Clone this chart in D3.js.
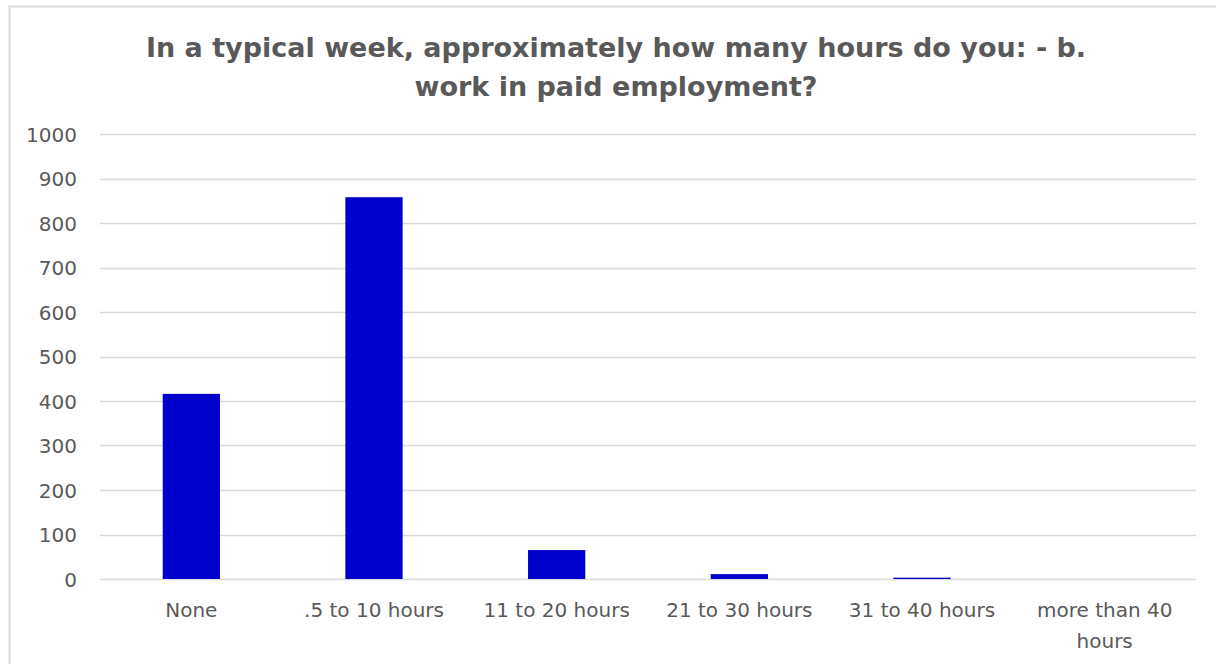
<!DOCTYPE html>
<html>
<head>
<meta charset="utf-8">
<script src="https://cdn.jsdelivr.net/npm/d3@7"></script>
<style>
  html, body { margin: 0; padding: 0; background: #ffffff; }
  svg { display: block; }
</style>
</head>
<body>
<svg id="chart" width="1216" height="664"></svg>
<script>
// Weekly hours spent in paid employment (respondent counts)
const categories = ["None", ".5 to 10 hours", "11 to 20 hours", "21 to 30 hours", "31 to 40 hours", "more than 40 hours"];
const counts = [416, 858, 65, 11, 3, 0];
const yTicks = [0, 100, 200, 300, 400, 500, 600, 700, 800, 900, 1000];
const titleLines = ["In a typical week, approximately how many hours do you: - b.", "work in paid employment?"];

const W = 1216, H = 664;
const plot = { left: 100, right: 1196, top: 134, bottom: 579 };
const fontFamily = "'Century Gothic', 'DejaVu Sans', sans-serif";
const textColor = "#595959";

const svg = d3.select("#chart");

// Chart frame
svg.append("rect")
  .attr("x", 9.5).attr("y", 6.5)
  .attr("width", W + 20).attr("height", H + 20)
  .attr("fill", "#ffffff")
  .attr("stroke", "#d9d9d9").attr("stroke-width", 2);

// Title
svg.append("g")
  .selectAll("text")
  .data(titleLines)
  .join("text")
  .attr("x", 616)
  .attr("y", (d, i) => 57 + i * 39)
  .attr("text-anchor", "middle")
  .attr("font-family", fontFamily)
  .attr("font-weight", "bold")
  .attr("font-size", 27)
  .attr("fill", textColor)
  .text(d => d);

const x = d3.scaleBand()
  .domain(categories)
  .range([plot.left, plot.right])
  .padding(0);

const y = d3.scaleLinear()
  .domain([0, 1000])
  .range([plot.bottom, plot.top]);

// Horizontal gridlines
svg.append("g")
  .selectAll("line")
  .data(yTicks)
  .join("line")
  .attr("x1", plot.left).attr("x2", plot.right)
  .attr("y1", d => Math.round(y(d)) + 0.5)
  .attr("y2", d => Math.round(y(d)) + 0.5)
  .attr("stroke", "#d9d9d9")
  .attr("stroke-width", 1.5);

// Y axis labels
const yAxis = d3.axisLeft(y).tickValues(yTicks).tickFormat(d3.format("d")).tickSize(0).tickPadding(0);
const yG = svg.append("g")
  .attr("transform", `translate(${plot.left - 23},0)`)
  .call(yAxis);
yG.select(".domain").remove();
yG.selectAll("text")
  .attr("font-family", fontFamily)
  .attr("font-size", 20)
  .attr("fill", textColor)
  .attr("dy", "0.36em");

// Bars: Excel-style gap width (~219%)
const barW = x.bandwidth() / 3.19;
svg.append("g")
  .selectAll("rect")
  .data(categories.map((c, i) => ({ c, v: counts[i] })))
  .join("rect")
  .attr("x", d => x(d.c) + (x.bandwidth() - barW) / 2)
  .attr("y", d => y(d.v))
  .attr("width", barW)
  .attr("height", d => y(0) - y(d.v))
  .attr("fill", "#0000cc");

// X axis labels (wrapped within each band)
const xAxis = d3.axisBottom(x).tickSize(0).tickPadding(0);
const xG = svg.append("g")
  .attr("transform", `translate(0,${plot.bottom})`)
  .call(xAxis);
xG.select(".domain").remove();
xG.selectAll("text")
  .attr("font-family", fontFamily)
  .attr("font-size", 20)
  .attr("fill", textColor)
  .attr("y", 38)
  .attr("dy", 0)
  .each(function(d) {
    const t = d3.select(this);
    const maxW = 160;
    const words = d.split(" ");
    t.text(null);
    let line = [];
    let tspan = t.append("tspan").attr("x", 0).attr("dy", 0);
    for (const w of words) {
      line.push(w);
      tspan.text(line.join(" "));
      if (tspan.node().getComputedTextLength() > maxW && line.length > 1) {
        line.pop();
        tspan.text(line.join(" "));
        line = [w];
        tspan = t.append("tspan").attr("x", 0).attr("dy", 31).text(w);
      }
    }
  });
</script>
</body>
</html>
